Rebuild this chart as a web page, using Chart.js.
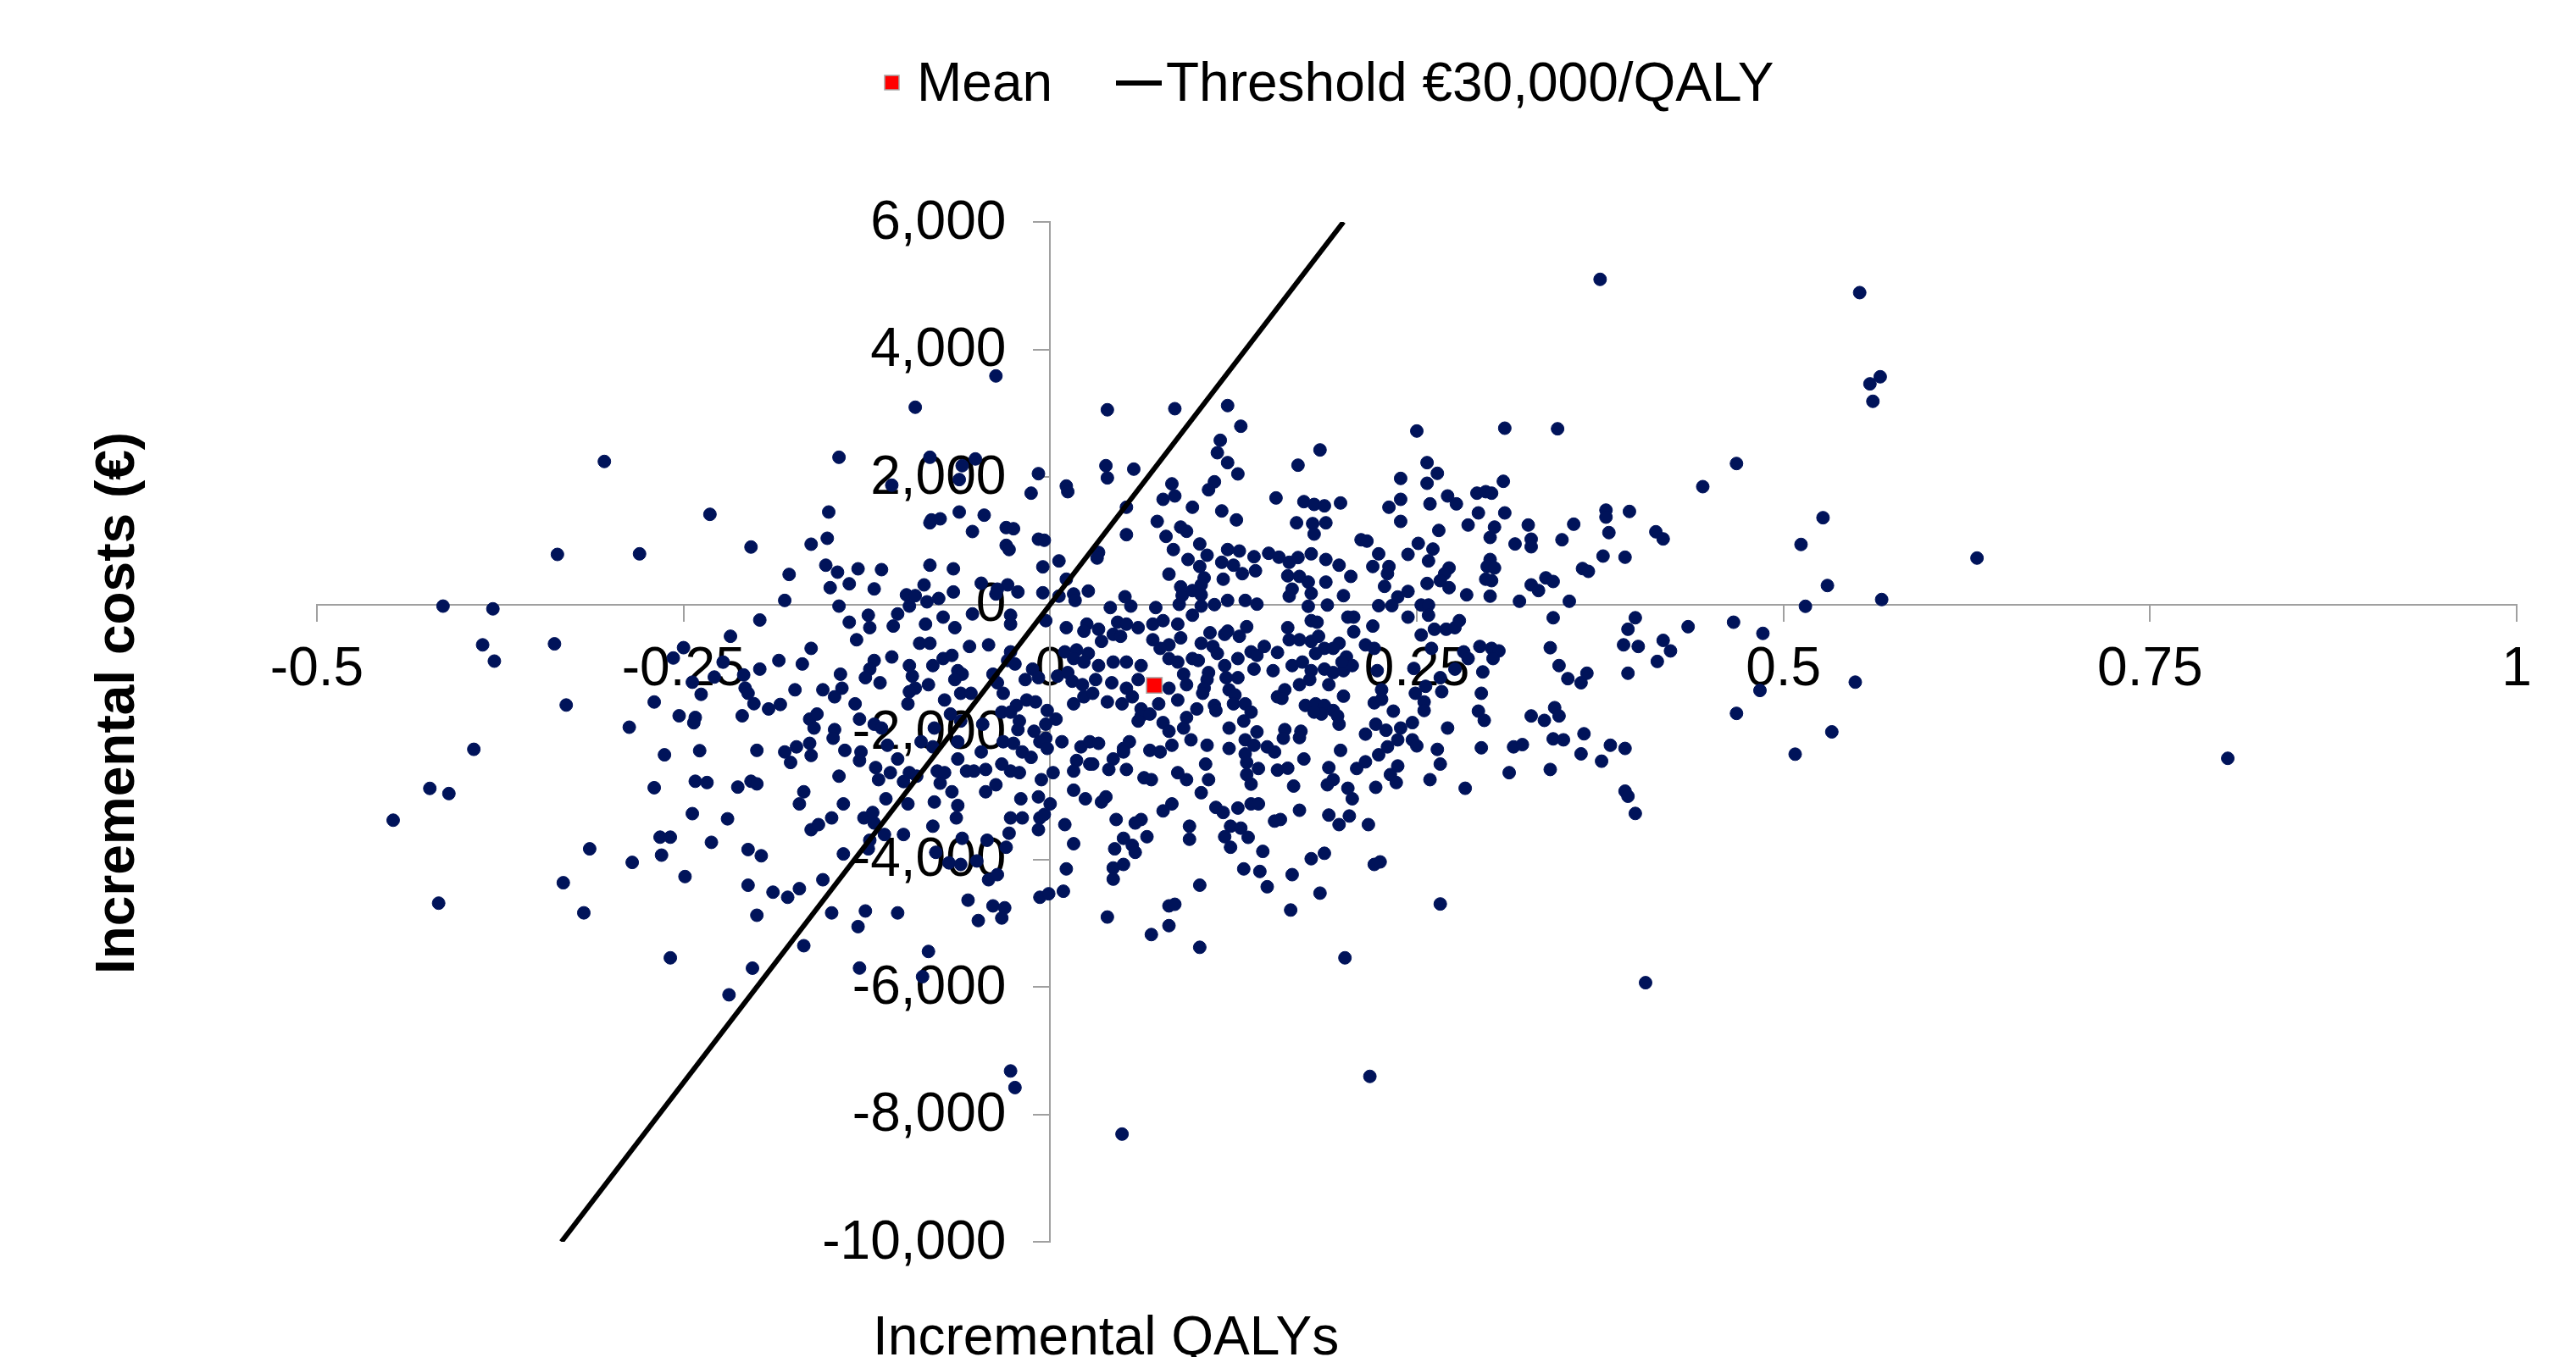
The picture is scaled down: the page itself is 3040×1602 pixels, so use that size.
<!DOCTYPE html>
<html>
<head>
<meta charset="utf-8">
<script src="https://cdn.jsdelivr.net/npm/chart.js@4.4.1/dist/chart.umd.min.js"></script>
<style>
  html, body { margin: 0; padding: 0; background: #ffffff; overflow: hidden; }
  #wrap { position: relative; width: 3040px; height: 1602px; }
  canvas { display: block; }
</style>
</head>
<body>
<div id="wrap"><canvas id="c" width="3040" height="1602"></canvas></div>
<script>
// ---------------- DATA ----------------
const xTickValues = [-0.5, -0.25, 0, 0.25, 0.5, 0.75, 1];
const yTickValues = [-10000, -8000, -6000, -4000, -2000, 0, 2000, 4000, 6000];
const legendLabels = ['Mean', 'Threshold \u20ac30,000/QALY'];
const axisTitles = { x: 'Incremental QALYs', y: 'Incremental costs (\u20ac)' };
const meanPoint = [0.071, -1270];
const thresholdLine = [[-0.3333, -10000], [0.2, 6000]];

// bootstrap replicates [incremental QALYs, incremental costs]
const replicatesUpper = [
[-0.304,2242],[-0.336,784],[-0.280,793],[-0.232,1413],[-0.204,900],[-0.414,-27],[-0.380,-70],
[-0.037,3584],[-0.092,3093],[-0.144,2308],[-0.082,2308],[-0.051,2282],[-0.060,2176],[-0.062,1958],[-0.008,2051],[-0.108,1870],[-0.013,1745],[0.011,1857],[0.012,1768],[0.039,3053],[0.085,3070],[0.038,2176],[0.039,1985],[0.057,2122],[0.083,1891],[0.085,1701],[0.077,1648],[0.052,1524],[-0.151,1449],[-0.062,1449],[-0.045,1400],[-0.082,1280],[-0.081,1325],[-0.075,1342],[0.073,1302],[0.089,1213],[-0.152,1037],[-0.163,944],[-0.053,1143],[-0.030,1205],[-0.025,1187],[-0.030,926],[-0.028,860],[-0.008,1023],[-0.004,1006],[0.052,1094],[0.079,1067],[0.084,860],[0.006,682],[0.033,815],[0.032,727],[0.081,474],[0.089,275],[-0.178,470],[-0.153,615],[-0.145,505],[-0.131,558],[-0.115,545],[-0.082,615],[-0.066,558],[-0.005,589],[-0.150,262],[-0.137,323],[-0.120,243],[-0.086,306],[-0.047,332],[-0.029,306],[-0.066,195],[-0.022,195],[-0.005,182],[0.011,395],[0.016,163],[0.017,62],[0.026,209],[0.051,120],[0.006,129],[0.090,140],[-0.098,150],[-0.092,137],[-0.084,40],[-0.076,93],[-0.096,-27],[-0.181,62],[-0.144,-27],[-0.037,163],[-0.036,239],[0.041,-50],[0.055,-27],[0.072,-50],[0.088,0],
[0.375,5099],[0.121,3119],[0.130,2795],[0.116,2574],[0.114,2379],[0.121,2224],[0.128,2047],[0.112,1923],[0.108,1798],[0.184,2423],[0.169,2184],[0.250,2720],[0.310,2764],[0.346,2755],[0.257,2224],[0.264,2056],[0.239,1976],[0.257,1900],[0.309,1931],[0.291,1745],[0.297,1768],[0.301,1745],[0.271,1701],[0.277,1577],[0.239,1648],[0.231,1524],[0.259,1577],[0.239,1302],[0.292,1435],[0.310,1435],[0.379,1479],[0.379,1369],[0.381,1126],[0.154,1670],[0.173,1612],[0.180,1568],[0.187,1546],[0.198,1591],[0.097,1524],[0.117,1466],[0.127,1325],[0.093,1147],[0.168,1280],[0.179,1267],[0.188,1280],[0.180,1103],[0.285,1245],[0.265,1160],[0.303,1213],[0.300,1050],[0.326,1245],[0.328,1023],[0.328,904],[0.357,1258],[0.349,1014],[0.317,948],[0.212,1014],[0.216,993],[0.251,957],[0.261,868],[0.224,793],[0.244,784],[0.258,682],[0.102,948],[0.107,771],[0.102,594],[0.094,704],[0.121,860],[0.129,837],[0.139,748],[0.117,660],[0.125,615],[0.131,482],[0.140,527],[0.149,802],[0.156,740],[0.163,660],[0.169,735],[0.178,793],[0.188,704],[0.197,615],[0.205,439],[0.220,594],[0.231,594],[0.230,482],[0.272,571],[0.269,482],[0.266,372],[0.272,262],[0.300,704],[0.298,594],[0.303,571],[0.297,395],[0.301,372],[0.377,758],[0.363,562],[0.367,518],[0.338,416],[0.343,359],[0.328,306],[0.333,217],[0.257,328],[0.244,203],[0.237,116],[0.228,283],[0.188,350],[0.200,137],[0.162,448],[0.170,439],[0.176,350],[0.165,239],[0.163,129],[0.178,173],[0.118,395],[0.105,416],[0.103,306],[0.097,217],[0.103,150],[0.284,150],[0.300,129],[0.320,49],[0.354,49],[0.121,62],[0.133,62],[0.141,4],[0.112,-4],[0.103,-27],[0.189,-10],[0.176,-30],[0.224,-20],[0.233,-20],[0.253,-10],[0.258,-10],
[0.552,4891],[0.566,3571],[0.559,3460],[0.561,3186],[0.468,2210],[0.445,1847],[0.395,1458],[0.413,1139],[0.418,1027],[0.392,740],[0.527,1360],[0.512,940],[0.632,727],[0.530,296],[0.567,76],[0.515,-30]
];

const replicatesLowerLeft = [
[-0.387,-635],[-0.379,-890],[-0.338,-619],[-0.330,-1579],[-0.287,-1927],[-0.270,-1531],[-0.257,-841],[-0.250,-679],[-0.218,-500],[-0.244,-1221],[-0.229,-1140],[-0.238,-1411],[-0.223,-906],[-0.209,-1107],[-0.208,-1313],[-0.206,-1395],[-0.202,-1558],[-0.198,-245],[-0.198,-1015],[-0.253,-1748],[-0.242,-1774],[-0.243,-1857],[-0.210,-1748],[-0.393,-2274],[-0.263,-2360],[-0.239,-2295],[-0.200,-2290],[-0.423,-2887],[-0.410,-2968],[-0.448,-3386],[-0.270,-2876],[-0.242,-2775],[-0.234,-2795],[-0.213,-2866],[-0.204,-2775],[-0.200,-2816],[-0.244,-3283],[-0.220,-3364],[-0.266,-3652],[-0.259,-3652],[-0.265,-3934],[-0.231,-3733],[-0.206,-3846],[-0.197,-3944],[-0.314,-3835],[-0.285,-4048],[-0.249,-4270],[-0.206,-4406],[-0.332,-4367],[-0.318,-4839],[-0.417,-4687],[-0.200,-4877],[-0.259,-5545],[-0.203,-5707],[-0.219,-6125]
];

const replicatesLowerCentre = [
[-0.137,-280],[-0.124,-170],[-0.123,-365],[-0.104,-150],[-0.107,-340],[-0.085,-310],[-0.073,-200],[-0.065,-365],[-0.053,-150],[-0.027,-170],[-0.027,-310],[-0.003,-255],[0.011,-365],[0.025,-310],[0.023,-420],[0.033,-390],[0.046,-280],[0.052,-310],[0.060,-365],[0.070,-310],[0.077,-255],[0.087,-310],
[-0.132,-555],[-0.163,-690],[-0.089,-610],[-0.082,-610],[-0.055,-660],[-0.042,-635],[0.035,-580],[0.043,-470],[0.048,-500],[0.070,-555],[0.081,-635],[0.089,-525],[0.010,-745],[0.018,-715],[0.026,-770],[-0.027,-745],[0.075,-690],
[-0.185,-880],[-0.169,-935],[-0.120,-880],[-0.108,-825],[-0.123,-1015],[-0.096,-960],[-0.080,-960],[-0.073,-850],[-0.067,-800],[-0.063,-1040],[-0.060,-1095],[-0.029,-880],[-0.024,-935],[-0.012,-1015],[0.016,-850],[0.023,-905],[0.033,-960],[0.043,-905],[0.052,-905],[0.062,-960],[0.081,-850],[0.087,-905],[0.091,-1095],[0.005,-1125],[0.012,-1070],
[-0.143,-1095],[-0.126,-1150],[-0.116,-1230],[-0.094,-1125],[-0.092,-1315],[-0.083,-1260],[-0.065,-1180],[-0.039,-1095],[-0.036,-1230],[-0.017,-1180],[-0.008,-1150],[0.015,-1205],[0.022,-1260],[0.031,-1180],[0.042,-1230],[0.052,-1315],[0.060,-1180],[0.081,-1315],[0.093,-1260],[-0.174,-1340],[-0.155,-1340],[-0.142,-1315],[-0.096,-1370],
[-0.192,-1640],[-0.184,-1570],[-0.147,-1450],[-0.133,-1560],[-0.097,-1560],[-0.072,-1500],[-0.061,-1395],[-0.054,-1395],[-0.016,-1500],[-0.010,-1530],[-0.023,-1585],[0.016,-1560],[0.023,-1450],[0.029,-1395],[0.039,-1530],[0.049,-1560],[0.056,-1450],[0.062,-1640],[0.074,-1560],[0.087,-1500],[-0.032,-1395],
[-0.164,-1800],[-0.159,-1720],[-0.161,-1940],[-0.130,-1800],[-0.120,-1880],[-0.147,-1965],[-0.148,-2100],[-0.115,-1940],[-0.079,-1940],[-0.068,-1720],[-0.061,-1830],[-0.046,-1880],[-0.033,-1690],[-0.027,-1690],[-0.021,-1830],[-0.022,-1965],[-0.011,-1990],[-0.003,-1880],[-0.002,-1665],[0.004,-1800],[0.062,-1750],[0.060,-1830],[0.068,-1720],[0.077,-1855],[0.081,-1990],[0.091,-1940],[-0.003,-2100],[0.008,-2155],
[-0.181,-2315],[-0.173,-2235],[-0.177,-2480],[-0.164,-2180],[-0.163,-2370],[-0.140,-2290],[-0.129,-2315],[-0.130,-2450],[-0.111,-2210],[-0.104,-2425],[-0.088,-2155],[-0.080,-2235],[-0.063,-2155],[-0.047,-2315],[-0.032,-2155],[-0.025,-2180],[-0.019,-2315],[-0.013,-2400],[-0.007,-2155],[-0.002,-2260],[0.021,-2235],[0.027,-2155],[0.033,-2180],[0.050,-2260],[0.054,-2155],[0.068,-2290],[0.075,-2315],[0.083,-2210],[0.018,-2450],[0.029,-2505],[0.043,-2425],[0.050,-2315],
[-0.144,-2695],[-0.119,-2560],[-0.117,-2750],[-0.109,-2640],[-0.100,-2780],[-0.096,-2640],[-0.091,-2695],[-0.077,-2615],[-0.072,-2640],[-0.063,-2425],[-0.057,-2615],[-0.052,-2615],[-0.044,-2590],[-0.033,-2505],[-0.027,-2615],[-0.021,-2640],[-0.006,-2750],[0.002,-2640],[0.016,-2615],[0.027,-2505],[0.040,-2590],[0.052,-2590],[0.064,-2720],[0.069,-2750],[0.087,-2640],[0.093,-2750],
[-0.168,-2940],[-0.171,-3130],[-0.141,-3130],[-0.112,-3050],[-0.097,-3130],[-0.075,-2805],[-0.067,-2940],[-0.044,-2940],[-0.037,-2830],[-0.020,-3050],[-0.008,-3020],[0.000,-3130],[0.016,-2915],[0.024,-3050],[0.038,-3020],[0.035,-3100],[0.083,-3130],
[-0.149,-3350],[-0.127,-3350],[-0.121,-3265],[-0.120,-3430],[-0.163,-3535],[-0.158,-3455],[-0.080,-3480],[-0.079,-3100],[-0.063,-3155],[-0.064,-3350],[-0.027,-3350],[-0.019,-3350],[-0.007,-3350],[-0.004,-3295],[-0.008,-3535],[0.010,-3455],[0.045,-3375],[0.058,-3430],[0.062,-3375],[0.077,-3240],
[-0.141,-3915],[-0.123,-3700],[-0.124,-3835],[-0.113,-3610],[-0.100,-3610],[-0.060,-3670],[-0.043,-3700],[-0.030,-3810],[-0.028,-3590],[0.016,-3755],[0.044,-3835],[0.050,-3670],[0.056,-3780],[0.066,-3645],[0.058,-3890],
[-0.155,-4320],[-0.078,-3890],[-0.069,-4055],[-0.061,-4080],[-0.050,-4025],[-0.042,-4320],[-0.036,-4240],[0.011,-4150],[0.043,-4135],[0.050,-4080],[0.043,-4310],
[-0.189,-4515],[-0.179,-4595],[-0.171,-4460],[-0.149,-4840],[-0.126,-4810],[-0.104,-4840],[-0.056,-4640],[-0.039,-4730],[-0.031,-4760],[-0.033,-4920],[-0.049,-4960],[-0.007,-4595],[-0.001,-4540],[0.009,-4500],[0.039,-4905],[0.081,-4730],[0.085,-4705],
[-0.131,-5055],[-0.168,-5355],[-0.083,-5445],[-0.130,-5705],[-0.087,-5840],[0.069,-5180],[0.081,-5040],
[-0.027,-7320],[-0.024,-7580],[0.049,-8310]
];

const replicatesLowerRight = [
[0.097,-170],[0.134,-350],[0.129,-500],[0.109,-445],[0.119,-470],[0.121,-420],[0.162,-365],[0.178,-255],[0.182,-280],[0.203,-200],[0.207,-200],[0.220,-340],[0.207,-430],[0.244,-200],[0.258,-170],[0.262,-390],[0.270,-390],[0.276,-365],[0.279,-255],[0.343,-210],
[0.103,-610],[0.111,-660],[0.114,-770],[0.097,-850],[0.101,-880],[0.119,-960],[0.128,-850],[0.137,-745],[0.141,-800],[0.146,-660],[0.155,-755],[0.163,-555],[0.170,-555],[0.178,-580],[0.183,-500],[0.187,-690],[0.197,-610],[0.193,-690],[0.181,-770],[0.202,-825],[0.215,-635],[0.221,-690],[0.253,-480],[0.260,-690],[0.282,-745],[0.285,-850],[0.293,-660],[0.301,-690],[0.306,-730],[0.302,-850],[0.341,-680],
[0.108,-1070],[0.107,-1180],[0.105,-1315],[0.120,-1150],[0.128,-1150],[0.139,-1015],[0.152,-1040],[0.165,-960],[0.172,-905],[0.178,-1040],[0.177,-1180],[0.187,-1015],[0.193,-1070],[0.200,-1040],[0.206,-960],[0.199,-905],[0.190,-1260],[0.170,-1260],[0.223,-1040],[0.226,-1340],[0.248,-1005],[0.249,-1395],[0.256,-1285],[0.266,-1150],[0.267,-1370],[0.276,-1015],[0.295,-1060],[0.294,-1395],[0.347,-960],[0.353,-1165],[0.362,-1230],[0.366,-1080],
[0.100,-1640],[0.104,-1395],[0.112,-1585],[0.113,-1665],[0.122,-1340],[0.126,-1420],[0.125,-1560],[0.133,-1560],[0.137,-1690],[0.132,-1830],[0.155,-1450],[0.160,-1340],[0.158,-1475],[0.174,-1585],[0.181,-1560],[0.187,-1585],[0.193,-1665],[0.185,-1720],[0.180,-1690],[0.200,-1440],[0.221,-1545],[0.226,-1490],[0.234,-1675],[0.255,-1530],[0.255,-1665],[0.292,-1675],[0.296,-1820],[0.328,-1750],[0.337,-1820],[0.344,-1620],[0.347,-1750],
[0.093,-1775],[0.122,-1940],[0.141,-2000],[0.160,-1965],[0.159,-2100],[0.171,-1990],[0.170,-2090],[0.197,-1880],[0.196,-1750],[0.215,-2035],[0.222,-1880],[0.229,-1975],[0.239,-1940],[0.237,-2125],[0.247,-1855],[0.247,-2125],[0.250,-2220],[0.271,-1940],[0.264,-2275],[0.294,-2250],[0.316,-2235],[0.322,-2200],[0.343,-2110],[0.350,-2125],[0.364,-2030],[0.382,-2210],[0.096,-2125],[0.107,-2210],[0.122,-2260],[0.133,-2125],[0.139,-2210],[0.148,-2235],[0.153,-2315],
[0.106,-2505],[0.108,-2750],[0.103,-2955],[0.133,-2345],[0.134,-2480],[0.142,-2575],[0.134,-2670],[0.137,-2820],[0.155,-2600],[0.162,-2570],[0.173,-2425],[0.166,-2850],[0.190,-2560],[0.193,-2750],[0.189,-2830],[0.198,-2290],[0.203,-2885],[0.206,-3050],[0.209,-2575],[0.215,-2470],[0.224,-2360],[0.230,-2235],[0.232,-2670],[0.237,-2535],[0.236,-2795],[0.222,-2870],[0.259,-2750],[0.266,-2505],[0.283,-2885],[0.313,-2640],[0.341,-2590],[0.362,-2345],[0.376,-2460],
[0.113,-3185],[0.118,-3265],[0.128,-3195],[0.137,-3130],[0.142,-3130],[0.123,-3480],[0.130,-3510],[0.135,-3655],[0.119,-3645],[0.123,-3810],[0.095,-3480],[0.095,-3685],[0.153,-3400],[0.157,-3375],[0.170,-3230],[0.190,-3305],[0.204,-3320],[0.197,-3455],[0.217,-3455],[0.145,-3875],[0.178,-3990],[0.187,-3905],[0.221,-4080],[0.225,-4040],
[0.132,-4150],[0.143,-4190],[0.165,-4240],[0.148,-4430],[0.102,-4405],[0.184,-4530],[0.164,-4795],[0.266,-4700],[0.102,-5380],[0.201,-5545],[0.218,-7405],
[0.399,-210],[0.394,-390],[0.391,-635],[0.401,-660],[0.418,-565],[0.423,-730],[0.414,-895],[0.394,-1080],[0.435,-350],[0.466,-280],[0.486,-455],[0.484,-1350],[0.549,-1220],[0.468,-1710],[0.533,-2000],[0.508,-2350],[0.392,-2260],[0.392,-2930],[0.394,-3010],[0.399,-3280],[0.406,-5935],
[0.803,-2415]
];

// ---------------- CHART ----------------
const FONT = "'Liberation Sans', Arial, Helvetica, sans-serif";
const replicates = [].concat(replicatesUpper, replicatesLowerLeft, replicatesLowerCentre, replicatesLowerRight);

class CrossingLinearScale extends Chart.LinearScale {
  _computeLabelItems(chartArea) {
    const items = super._computeLabelItems(chartArea);
    const sh = this.options.labelShift;
    if (sh) {
      for (const it of items) {
        it.options.translation[0] += (sh.x || 0);
        it.options.translation[1] += (sh.y || 0);
      }
    }
    return items;
  }
}
CrossingLinearScale.id = 'crossingLinear';
CrossingLinearScale.defaults = Chart.LinearScale.defaults;
Chart.register(CrossingLinearScale);

const textPlugin = {
  id: 'legendAndTitles',
  afterDraw(chart) {
    const ctx = chart.ctx;
    ctx.save();
    // legend: Mean marker
    ctx.fillStyle = '#ff0000';
    ctx.fillRect(1044, 89, 17, 17);
    ctx.strokeStyle = '#a6a6a6';
    ctx.lineWidth = 1.5;
    ctx.strokeRect(1044, 89, 17, 17);
    // legend: threshold line marker
    ctx.strokeStyle = '#000000';
    ctx.lineWidth = 6;
    ctx.beginPath();
    ctx.moveTo(1317, 98);
    ctx.lineTo(1371, 98);
    ctx.stroke();
    ctx.fillStyle = '#000000';
    ctx.font = '64px ' + FONT;
    ctx.textAlign = 'left';
    ctx.textBaseline = 'alphabetic';
    ctx.fillText(legendLabels[0], 1082, 119);
    ctx.fillText(legendLabels[1], 1376, 119);
    // x-axis title
    ctx.fillText(axisTitles.x, 1030, 1599);
    // y-axis title
    ctx.font = 'bold 64px ' + FONT;
    ctx.translate(140, 830);
    ctx.rotate(-Math.PI / 2);
    ctx.textAlign = 'center';
    ctx.textBaseline = 'middle';
    ctx.fillText(axisTitles.y, 0, 0);
    ctx.restore();
  }
};

const axisGrey = '#a0a0a0';

new Chart(document.getElementById('c'), {
  type: 'scatter',
  data: {
    datasets: [
      {
        label: legendLabels[0],
        data: [{ x: meanPoint[0], y: meanPoint[1] }],
        pointStyle: 'rect',
        pointRadius: 13,
        backgroundColor: '#ff0000',
        borderColor: '#a6a6a6',
        borderWidth: 1.5,
        order: 0
      },
      {
        type: 'line',
        label: legendLabels[1],
        data: thresholdLine.map(p => ({ x: p[0], y: p[1] })),
        borderColor: '#000000',
        borderWidth: 6,
        pointRadius: 0,
        fill: false,
        tension: 0,
        order: 1
      },
      {
        label: 'Bootstrap replicates',
        data: replicates.map(p => ({ x: p[0], y: p[1] })),
        pointStyle: 'circle',
        pointRadius: 7.5,
        backgroundColor: '#00135a',
        borderColor: '#00135a',
        borderWidth: 1,
        order: 2
      }
    ]
  },
  options: {
    responsive: false,
    animation: false,
    devicePixelRatio: 1,
    layout: { padding: { left: 374, right: 70, top: 262, bottom: 136 } },
    plugins: {
      legend: { display: false },
      tooltip: { enabled: false },
      title: { display: false }
    },
    scales: {
      x: {
        type: 'crossingLinear',
        position: { y: 0 },
        min: -0.5,
        max: 1,
        afterBuildTicks: (s) => { s.ticks = xTickValues.map(v => ({ value: v })); },
        grid: { display: true, drawOnChartArea: false, drawTicks: true, tickLength: 19, color: axisGrey, lineWidth: 2 },
        border: { display: true, color: axisGrey, width: 2 },
        ticks: {
          autoSkip: false,
          maxRotation: 0,
          padding: 20,
          color: '#000000',
          font: { family: FONT, size: 64 },
          callback: (v) => String(v)
        },
        title: { display: false }
      },
      y: {
        type: 'crossingLinear',
        position: { x: 0 },
        min: -10000,
        max: 6000,
        labelShift: { x: -52, y: 2 },
        afterBuildTicks: (s) => { s.ticks = yTickValues.map(v => ({ value: v })); },
        grid: { display: true, drawOnChartArea: false, drawTicks: true, tickLength: 19, color: axisGrey, lineWidth: 2 },
        border: { display: true, color: axisGrey, width: 2 },
        ticks: {
          autoSkip: false,
          padding: 0,
          color: '#000000',
          font: { family: FONT, size: 64 },
          callback: (v) => Number(v).toLocaleString('en-US')
        },
        title: { display: false }
      }
    }
  },
  plugins: [textPlugin]
});
</script>
</body>
</html>
